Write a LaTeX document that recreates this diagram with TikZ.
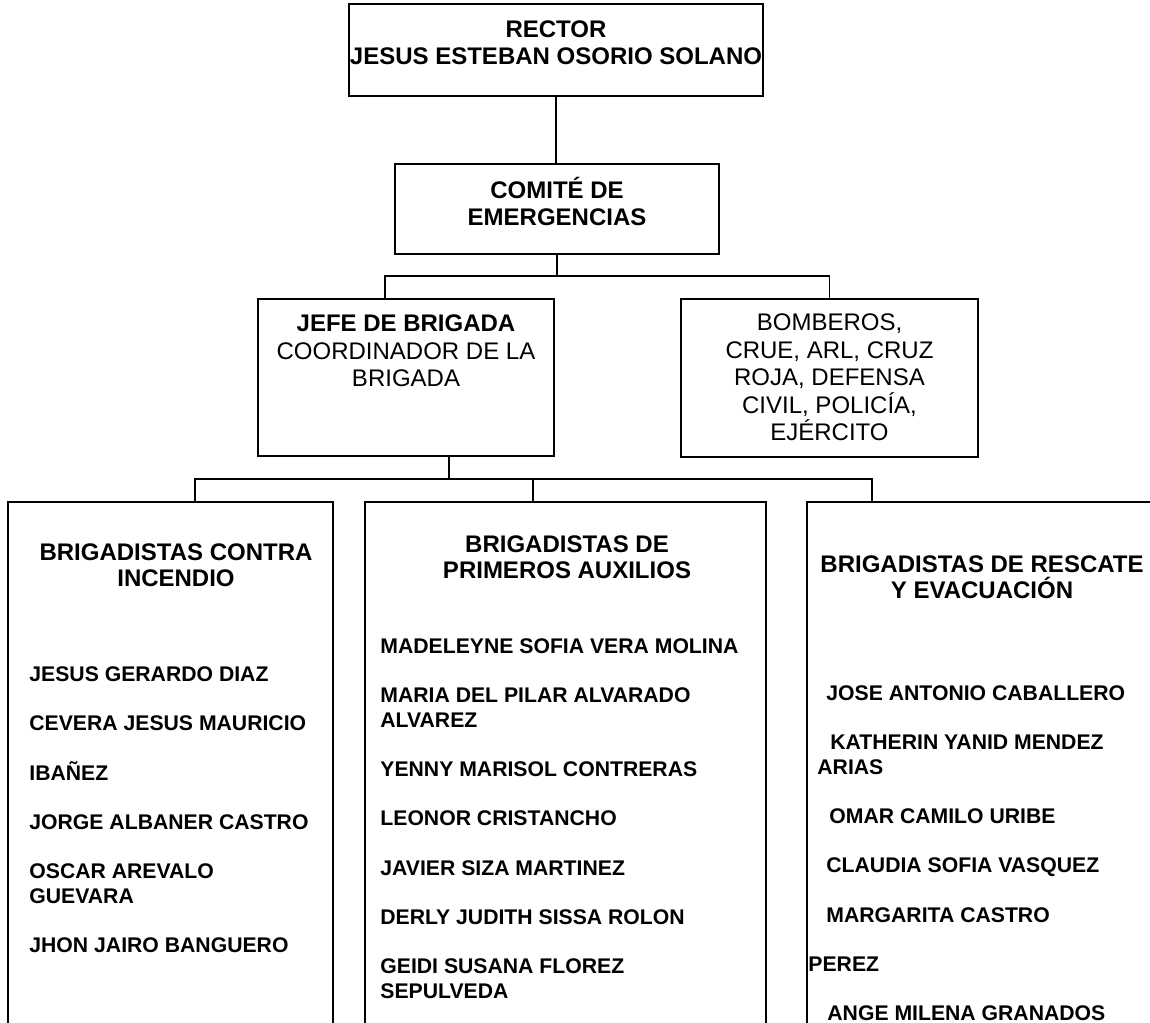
\documentclass[tikz,border=0pt]{standalone}
\usepackage{fontspec}
\setmainfont{Liberation Sans}
\tikzset{
 box/.style={draw,line width=1pt,inner sep=0pt},
 head/.style={align=center,inner sep=0pt,anchor=base,font=\fontsize{12}{13.75}\selectfont},
 headb/.style={head,font=\fontsize{12}{13.75}\selectfont\bfseries},
 title/.style={head,font=\fontsize{12}{13.25}\selectfont\bfseries},
 member/.style={anchor=base west,inner sep=0pt,font=\fontsize{10.6}{12.3}\selectfont\bfseries},
 link/.style={line width=0.75pt}
}

\begin{document}
\begin{tikzpicture}[x=0.5pt,y=-0.5pt]
\useasboundingbox (0,0) rectangle (1150,1022);
% boxes
\node[box,minimum width=207pt,minimum height=46pt] (rector) at (556,50) {};
\node[box,minimum width=162pt,minimum height=45pt] (comite) at (557,209) {};
\node[box,minimum width=148pt,minimum height=78.5pt] (jefe) at (406,377.5) {};
\node[box,minimum width=148.5pt,minimum height=79pt] (apoyo) at (829.5,378) {};
\node[box,minimum width=162.5pt,minimum height=264pt] (incendio) at (170.5,766) {};
\node[box,minimum width=200.5pt,minimum height=264pt] (auxilios) at (565.5,766) {};
\node[box,minimum width=175pt,minimum height=264pt] (rescate) at (982,766) {};
% box texts (base = last line)
\node[headb] (rector-t) at (556,64.6) {RECTOR\\JESUS ESTEBAN OSORIO SOLANO};
\node[headb] (comite-t) at (557,225.6) {COMITÉ DE\\EMERGENCIAS};
\node[head] (jefe-t) at (406,386.6) {\textbf{JEFE DE BRIGADA}\\COORDINADOR DE LA\\BRIGADA};
\node[head] (apoyo-t) at (829.5,440.6) {BOMBEROS,\\CRUE, ARL, CRUZ\\ROJA, DEFENSA\\CIVIL, POLICÍA,\\EJÉRCITO};
\node[title] (incendio-t) at (176,586.6) {BRIGADISTAS CONTRA\\INCENDIO};
\node[title] (auxilios-t) at (567,578.6) {BRIGADISTAS DE\\PRIMEROS AUXILIOS};
\node[title] (rescate-t) at (982,598.6) {BRIGADISTAS DE RESCATE\\Y EVACUACIÓN};
% members
\foreach \k/\name in {0/JESUS GERARDO DIAZ,2/CEVERA JESUS MAURICIO,4/IBAÑEZ,6/JORGE ALBANER CASTRO,8/OSCAR AREVALO,9/GUEVARA,11/JHON JAIRO BANGUERO}
 \node[member] (inc\k) at (29,{681.6+\k*24.6}) {\name};
\foreach \k/\name in {0/MADELEYNE SOFIA VERA MOLINA,2/MARIA DEL PILAR ALVARADO,3/ALVAREZ,5/YENNY MARISOL CONTRERAS,7/LEONOR CRISTANCHO,9/JAVIER SIZA MARTINEZ,11/DERLY JUDITH SISSA ROLON,13/GEIDI SUSANA FLOREZ,14/SEPULVEDA}
 \node[member] (aux\k) at (380,{653.6+\k*24.6}) {\name};
\foreach \k/\x/\name in {0/826/JOSE ANTONIO CABALLERO,2/830/KATHERIN YANID MENDEZ,3/817/ARIAS,5/829/OMAR CAMILO URIBE,7/826/CLAUDIA SOFIA VASQUEZ,9/826/MARGARITA CASTRO,11/808/PEREZ,13/827/ANGE MILENA GRANADOS}
 \node[member] (res\k) at (\x,{700.6+\k*24.6}) {\name};
% connectors
\coordinate (busA) at (0,276);
\coordinate (busB) at (0,479);
\draw[link] (rector.south) -- (comite.north -| rector.south);
\draw[link] (comite.south) -- (comite.south |- busA);
\draw[link] (jefe.north -| 385,0) |- (busA -| apoyo.north) -- (apoyo.north);
\draw[link] (jefe.south -| 449,0) -- (busB -| 449,0);
\draw[link] (incendio.north -| 195,0) |- (busB -| 872,0) -- (rescate.north -| 872,0);
\draw[link] (busB -| 533,0) -- (auxilios.north -| 533,0);
\end{tikzpicture}
\end{document}
